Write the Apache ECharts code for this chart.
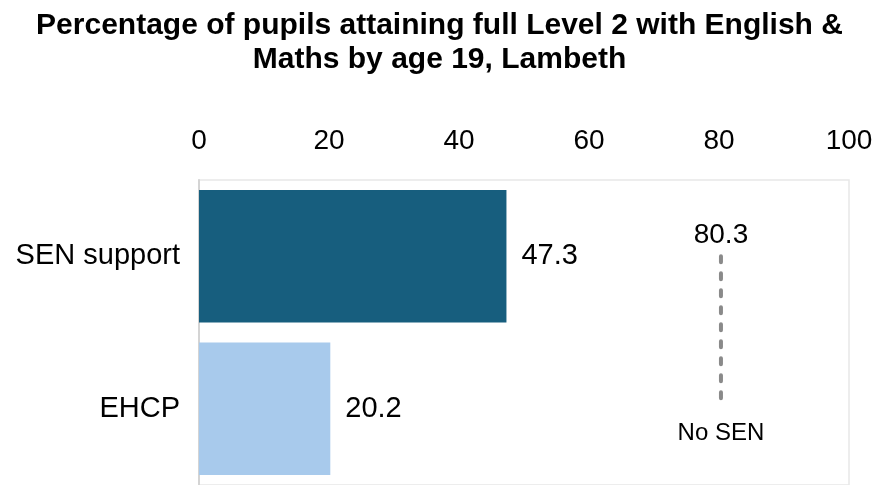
<!DOCTYPE html>
<html><head><meta charset="utf-8">
<script src="https://cdn.jsdelivr.net/npm/echarts@6/dist/echarts.min.js"></script>
<style>html,body{margin:0;padding:0;background:#fff}#c{width:879px;height:485px}</style>
</head><body><div id="c"></div>
<script>
const categories = ['SEN support', 'EHCP'];
const values = [47.3, 20.2];
const barColors = ['#175e7e', '#a8caec'];
const noSenValue = 80.3;
const noSenLabel = 'No SEN';
const titleText = 'Percentage of pupils attaining full Level 2 with English &\nMaths by age 19, Lambeth';

const chart = echarts.init(document.getElementById('c'));
chart.setOption({
  animation: false,
  title: {
    text: titleText, left: 'center', top: 4,
    textStyle: {fontFamily: 'Liberation Sans', fontWeight: 'bold', fontSize: 30, lineHeight: 34, color: '#000'}
  },
  grid: {left: 199, right: 30, top: 180, bottom: -2, show: true, borderColor: '#e8e8e8', borderWidth: 1.5},
  xAxis: {
    type: 'value', position: 'top', min: 0, max: 100, interval: 20,
    axisLine: {show: false}, axisTick: {show: false}, splitLine: {show: false},
    axisLabel: {fontFamily: 'Liberation Sans', fontSize: 28, color: '#000', margin: 25}
  },
  yAxis: {
    type: 'category', data: categories, inverse: true,
    axisLine: {show: true, lineStyle: {color: '#d4d4d4', width: 2}}, axisTick: {show: false},
    axisLabel: {fontFamily: 'Liberation Sans', fontSize: 29, color: '#000', margin: 19}
  },
  series: [{
    type: 'bar', barCategoryGap: '13%',
    data: values.map((v, i) => ({value: v, itemStyle: {color: barColors[i]}})),
    label: {show: true, position: 'right', distance: 15, fontFamily: 'Liberation Sans', fontSize: 29, color: '#000'}
  }, {
    type: 'line', symbol: 'circle', symbolSize: 1, showSymbol: true,
    itemStyle: {color: 'rgba(0,0,0,0)'},
    lineStyle: {color: '#8a8a8a', width: 4, type: [6, 11], cap: 'round'},
    data: [
      {value: [noSenValue, 0], label: {show: true, position: 'top', distance: 6, formatter: String(noSenValue), fontSize: 28}},
      {value: [noSenValue, 1], label: {show: true, position: 'bottom', distance: 12, formatter: noSenLabel, fontSize: 24}}
    ],
    label: {fontFamily: 'Liberation Sans', color: '#000'}
  }]
});
</script></body></html>
